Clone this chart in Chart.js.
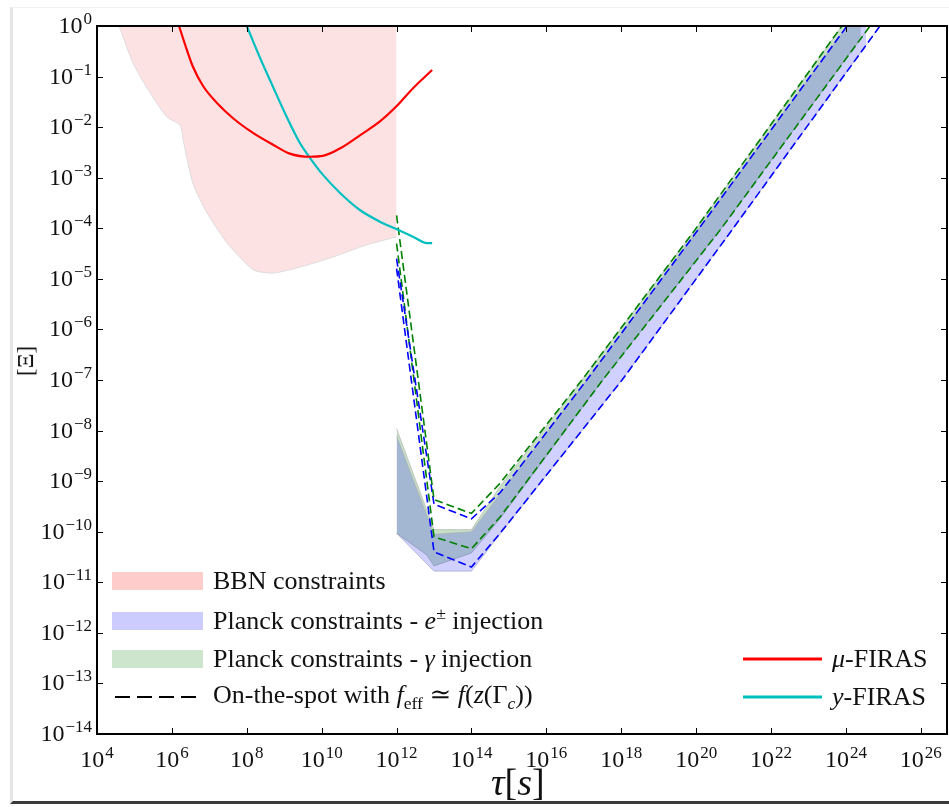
<!DOCTYPE html>
<html>
<head>
<meta charset="utf-8">
<script src="https://cdn.jsdelivr.net/npm/chart.js@4.4.0/dist/chart.umd.min.js"></script>
<style>
  html, body { margin:0; padding:0; background:#fff; overflow:hidden; }
  #wrap { position:relative; width:949px; height:807px; font-family:"Liberation Serif", "DejaVu Serif", serif; color:#111; }
  #frame { position:absolute; left:10px; top:7px; width:950px; height:797px; border-left:3px solid #e4e4e4; border-top:1px solid #f2f2f2; border-bottom:3px solid #3a3a3a; box-sizing:border-box; }
  canvas { position:absolute; left:0; top:0; }
  .lg { position:absolute; font-size:26px; line-height:1; white-space:nowrap; }
  .patch { position:absolute; width:91px; height:18px; }
  sup, sub { font-size:68%; line-height:0; }
  #ylab { position:absolute; left:11px; top:348px; font-size:23px; transform:rotate(-90deg); transform-origin:center; }
  #xlab { position:absolute; left:491px; top:760px; font-size:38px; }
</style>
</head>
<body>
<div id="wrap">
  <div id="frame"></div>
  <canvas id="c" width="949" height="807"></canvas>
  <div id="ylab">[Ξ]</div>
  <div id="xlab"><i>τ</i>[<i>s</i>]</div>

  <div class="patch" style="left:112px;top:572px;background:#ffcccc"></div>
  <div class="lg" style="left:213px;top:568px">BBN constraints</div>
  <div class="patch" style="left:112px;top:612px;background:#ccccff"></div>
  <div class="lg" style="left:213px;top:608px">Planck constraints - <i>e</i><sup>±</sup> injection</div>
  <div class="patch" style="left:112px;top:650px;background:#cce5cc"></div>
  <div class="lg" style="left:213px;top:646px">Planck constraints - <i>γ</i> injection</div>
  <svg style="position:absolute;left:112px;top:690px" width="92" height="14"><line x1="3" y1="7" x2="84" y2="7" stroke="#000" stroke-width="2" stroke-dasharray="15,7"/></svg>
  <div class="lg" style="left:213px;top:682px">On-the-spot with <i>f</i><sub>eff</sub> ≃ <i>f</i>(<i>z</i>(Γ<sub><i>c</i></sub>))</div>

  <svg style="position:absolute;left:740px;top:650px" width="86" height="60"><line x1="3" y1="9" x2="82" y2="9" stroke="#ff0000" stroke-width="3"/><line x1="3" y1="47" x2="82" y2="47" stroke="#00bfbf" stroke-width="3"/></svg>
  <div class="lg" style="left:832px;top:646px"><i>μ</i>-FIRAS</div>
  <div class="lg" style="left:832px;top:684px"><i>y</i>-FIRAS</div>
</div>
<script>
// ---------- data (tau in seconds, Xi dimensionless) ----------
const xTickValues = [1e4,1e6,1e8,1e10,1e12,1e14,1e16,1e18,1e20,1e22,1e24,1e26];
const yTickValues = [1e-14,1e-13,1e-12,1e-11,1e-10,1e-9,1e-8,1e-7,1e-6,1e-5,1e-4,1e-3,1e-2,1e-1,1];

// BBN excluded region: lower boundary (region extends up to the top)
const bbnTau   = [3.9e4, 9.1e4, 2.6e5, 7.4e5, 1.66e6, 2.0e6, 3.6e6, 8.7e6, 3.0e7, 1.5e8, 5.0e8, 2.6e9, 2.0e10, 1.6e11, 1e12];
const bbnLower = [1.0, 0.186, 0.048, 0.0158, 0.011, 0.0056, 7.9e-4, 2.0e-4, 5.1e-5, 1.5e-5, 1.3e-5, 1.7e-5, 2.7e-5, 4.7e-5, 6.8e-5];

// mu-FIRAS
const muTau = [1.55e6, 2.5e6, 3.6e6, 6.8e6, 1.6e7, 4.3e7, 1.5e8, 5.0e8, 1.4e9, 4.9e9, 1.07e10, 3.7e10, 1.05e11, 3.6e11, 9.5e11, 2.75e12, 8.9e12];
const muXi  = [1.0, 0.34, 0.16, 0.065, 0.030, 0.015, 7.6e-3, 4.5e-3, 3.0e-3, 2.6e-3, 2.7e-3, 4.1e-3, 6.9e-3, 1.3e-2, 2.5e-2, 5.9e-2, 0.135];

// y-FIRAS
const yTau = [1.0e8, 2.2e8, 5.0e8, 1.17e9, 2.6e9, 4.9e9, 1.07e10, 3.1e10, 1.05e11, 3.6e11, 9.5e11, 2.75e12, 6.5e12, 8.9e12];
const yXi  = [1.0, 0.245, 0.063, 0.0158, 4.9e-3, 2.45e-3, 1.15e-3, 5.0e-4, 2.3e-4, 1.35e-4, 9.8e-5, 6.8e-5, 5.1e-5, 5.1e-5];

// Planck gamma injection band
const gBandUpperTau = [1e12, 1e13, 1e14, 5.8e14, 8.9e16, 9.3e19, 7.8e23, 2.5e24];
const gBandUpper    = [1.1e-8, 1.1e-10, 1.1e-10, 7.9e-10, 1.0e-7, 9.3e-5, 1.0, 3.2];
const gBandLowerTau = [1e12, 6.3e12, 1e13, 1e14, 5.8e14, 3.2e17, 4.4e20, 4.4e24, 1.4e25];
const gBandLower    = [9.3e-11, 3.5e-11, 2.1e-11, 3.8e-11, 1.8e-10, 1.0e-7, 9.3e-5, 1.0, 3.2];

// Planck e+- injection band
const eBandUpperTau = [1e12, 1e13, 1e14, 5.8e14, 1.2e17, 1.12e20, 1.07e24, 3.5e24];
const eBandUpper    = [7.9e-9, 8.9e-11, 1.0e-10, 5.6e-10, 1.0e-7, 9.3e-5, 1.0, 3.2];
const eBandLowerTau = [1e12, 1e13, 1e14, 5.8e14, 1.05e18, 9.1e20, 8.1e24, 2.6e25];
const eBandLower    = [9.3e-11, 1.66e-11, 1.66e-11, 8.9e-11, 1.0e-7, 9.3e-5, 1.0, 3.2];

// On-the-spot curves
const otsGreenUpperTau = [1e12, 1e13, 1e14, 5.8e14, 8.9e16, 9.3e19, 7.8e23, 2.5e24];
const otsGreenUpper    = [1.8e-4, 4.3e-10, 2.3e-10, 9.1e-10, 1.0e-7, 9.3e-5, 1.0, 3.2];
const otsBlueUpperTau  = [1e12, 1e13, 1e14, 5.8e14, 1.2e17, 1.12e20, 1.07e24, 3.5e24];
const otsBlueUpper     = [2.5e-5, 3.5e-10, 1.8e-10, 5.9e-10, 1.0e-7, 9.3e-5, 1.0, 3.2];
const otsGreenLowerTau = [1e12, 1e13, 1e14, 5.8e14, 3.2e17, 4.4e20, 4.4e24, 1.4e25];
const otsGreenLower    = [5.0e-5, 7.9e-11, 4.6e-11, 1.95e-10, 1.0e-7, 9.3e-5, 1.0, 3.2];
const otsBlueLowerTau  = [1e12, 1e13, 1e14, 5.8e14, 1.05e18, 9.1e20, 8.1e24, 2.6e25];
const otsBlueLower     = [1.6e-5, 4.0e-11, 2.0e-11, 9.3e-11, 1.0e-7, 9.3e-5, 1.0, 3.2];

// ---------- helpers ----------
const pts = (xs, ys) => xs.map((x, i) => ({x, y: ys[i]}));
const expOf = v => Math.round(Math.log10(v));

const dashed = (label, xs, ys, color) => ({
  label, data: pts(xs, ys), borderColor: color, borderWidth: 1.6, borderDash: [8, 4],
  pointRadius: 0, fill: false, tension: 0
});
const bandEdge = (label, xs, ys, fillColor, fillTarget) => ({
  label, data: pts(xs, ys), borderColor: 'rgba(170,170,170,0.55)', borderWidth: 1,
  pointRadius: 0, tension: 0, fill: fillTarget, backgroundColor: fillColor
});

const BASE_FONT = '24px "Liberation Serif", serif';
const EXP_FONT = '17px "Liberation Serif", serif';
function drawPow(ctx, exp, x, baseline, align) {
  const base = '10';
  const e = String(exp).replace('-', '\u2212');
  ctx.font = BASE_FONT; const wb = ctx.measureText(base).width;
  ctx.font = EXP_FONT; const we = ctx.measureText(e).width;
  const total = wb + 1 + we;
  const x0 = align === 'right' ? x - total : x - total / 2;
  ctx.textAlign = 'left'; ctx.textBaseline = 'alphabetic';
  ctx.font = BASE_FONT; ctx.fillText(base, x0, baseline);
  ctx.font = EXP_FONT; ctx.fillText(e, x0 + wb + 1, baseline - 9);
}

const frameTicks = {
  id: 'frameTicks',
  afterDraw(chart) {
    const {ctx, chartArea: {left, right, top, bottom}, scales: {x, y}} = chart;
    ctx.save();
    ctx.strokeStyle = '#000';
    ctx.lineWidth = 1;
    ctx.beginPath();
    x.ticks.forEach(t => {
      const px = Math.round(x.getPixelForValue(t.value)) + 0.5;
      ctx.moveTo(px, bottom); ctx.lineTo(px, bottom - 6);
      ctx.moveTo(px, top); ctx.lineTo(px, top + 6);
    });
    y.ticks.forEach(t => {
      const py = Math.round(y.getPixelForValue(t.value)) + 0.5;
      ctx.moveTo(left, py); ctx.lineTo(left + 6, py);
      ctx.moveTo(right, py); ctx.lineTo(right - 6, py);
    });
    ctx.stroke();
    ctx.lineWidth = 2;
    ctx.strokeRect(left, top, right - left, bottom - top);
    // tick labels (powers of ten) at the scale's tick positions
    ctx.fillStyle = '#111';
    x.ticks.forEach(t => drawPow(ctx, expOf(t.value), x.getPixelForValue(t.value), bottom + 33, 'center'));
    y.ticks.forEach(t => drawPow(ctx, expOf(t.value), left - 5, y.getPixelForValue(t.value) + 7, 'right'));
    ctx.restore();
  }
};

new Chart(document.getElementById('c'), {
  type: 'line',
  data: {
    datasets: [
      {label: 'μ-FIRAS', data: pts(muTau, muXi), borderColor: '#ff0000', borderWidth: 2.2, pointRadius: 0, cubicInterpolationMode: 'monotone', fill: false},
      {label: 'y-FIRAS', data: pts(yTau, yXi), borderColor: '#00bfbf', borderWidth: 2.2, pointRadius: 0, cubicInterpolationMode: 'monotone', fill: false},
      dashed('OTS gamma upper', otsGreenUpperTau, otsGreenUpper, '#008000'),
      dashed('OTS e upper', otsBlueUpperTau, otsBlueUpper, '#0000ff'),
      dashed('OTS gamma lower', otsGreenLowerTau, otsGreenLower, '#008000'),
      dashed('OTS e lower', otsBlueLowerTau, otsBlueLower, '#0000ff'),
      bandEdge('Planck e upper', eBandUpperTau, eBandUpper, 'rgba(0,0,255,0.18)', '+1'),
      bandEdge('Planck e lower', eBandLowerTau, eBandLower, 'rgba(0,0,0,0)', false),
      bandEdge('Planck gamma upper', gBandUpperTau, gBandUpper, 'rgba(0,110,0,0.22)', '+1'),
      bandEdge('Planck gamma lower', gBandLowerTau, gBandLower, 'rgba(0,0,0,0)', false),
      {label: 'BBN', data: pts(bbnTau, bbnLower), borderColor: 'rgba(215,215,215,0.8)', borderWidth: 1,
       backgroundColor: 'rgba(250,160,165,0.3)', fill: 'end', pointRadius: 0, tension: 0.2}
    ]
  },
  options: {
    responsive: false,
    animation: false,
    layout: {padding: {top: 26, right: 2, left: 0, bottom: 0}},
    plugins: {legend: {display: false}, tooltip: {enabled: false}, title: {display: false}},
    scales: {
      x: {
        type: 'logarithmic', min: 1e4, max: 5e26,
        grid: {display: false, drawTicks: false}, border: {display: false},
        afterBuildTicks: s => { s.ticks = xTickValues.map(v => ({value: v})); },
        afterFit: s => { s.height = 73; },
        ticks: {display: false, autoSkip: false, maxRotation: 0}
      },
      y: {
        type: 'logarithmic', min: 1e-14, max: 1,
        grid: {display: false, drawTicks: false}, border: {display: false},
        afterBuildTicks: s => { s.ticks = yTickValues.map(v => ({value: v})); },
        afterFit: s => { s.width = 97; },
        ticks: {display: false, autoSkip: false}
      }
    }
  },
  plugins: [frameTicks]
});
</script>
</body>
</html>
